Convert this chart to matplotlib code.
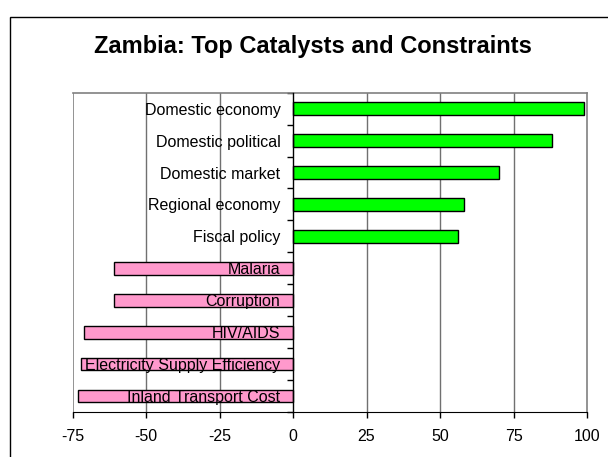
import matplotlib
matplotlib.use("Agg")
import matplotlib.pyplot as plt
from matplotlib.patches import Rectangle
import numpy as np

categories = ["Domestic economy", "Domestic political", "Domestic market",
              "Regional economy", "Fiscal policy", "Malaria", "Corruption",
              "HIV/AIDS", "Electricity Supply Efficiency", "Inland Transport Cost"]
values = [99, 88, 70, 58, 56, -61, -61, -71, -72, -73]
xticks = [-75, -50, -25, 0, 25, 50, 75, 100]
title = "Zambia: Top Catalysts and Constraints"

plt.rcParams['font.family'] = ['Liberation Sans', 'DejaVu Sans']

W, H = 608, 457
fig = plt.figure(figsize=(W / 100, H / 100), dpi=100)
fig.patch.set_facecolor('white')

# outer chart border
fig.patches.append(Rectangle((9.5 / W, -0.1), 1.2, 1 - 16.5 / H + 0.1,
                             transform=fig.transFigure, fill=False,
                             edgecolor='#000000', linewidth=1.0))

left, right, top, bottom = 72.5, 587, 92.7, 412
ax = fig.add_axes([left / W, 1 - bottom / H, (right - left) / W, (bottom - top) / H])

y = np.arange(len(categories))
colors = ['#00FF00' if v >= 0 else '#FF99CC' for v in values]
ax.barh(y, values, height=0.4, color=colors, edgecolor='black', linewidth=1.0, zorder=1)

ax.set_xlim(xticks[0], xticks[-1])
ax.set_ylim(len(categories) - 0.5, -0.5)

for xv in xticks[1:-1]:
    if xv != 0:
        ax.axvline(xv, color='#707070', linewidth=1.0, zorder=0.5)
ax.axvline(xticks[0], color='#808080', linewidth=1.2, zorder=0.5)

ax.spines['left'].set_position(('data', 0))
ax.spines['left'].set_color('black')
ax.spines['left'].set_linewidth(1.0)
ax.spines['left'].set_zorder(3)
ax.spines['bottom'].set_color('black')
ax.spines['top'].set_color('#808080')
ax.spines['right'].set_color('#808080')
ax.spines['top'].set_linewidth(1.2)
ax.spines['right'].set_linewidth(1.2)

ax.set_yticks(y)
ax.set_yticklabels(categories, fontsize=11.5)
ax.set_yticks(np.arange(len(categories) + 1) - 0.5, minor=True)
ax.tick_params(axis='y', which='major', length=0, pad=9)
ax.tick_params(axis='y', which='minor', length=4, direction='out', width=1)

ax.set_xticks(xticks)
ax.set_xticklabels([str(v) for v in xticks], fontsize=11.5)
ax.tick_params(axis='x', length=4, direction='out', width=1, pad=8)

fig.text(313 / W, 1 - 47 / H, title, ha='center', va='center',
         fontsize=17, fontweight='bold')

fig.savefig('out.png', dpi=100)
